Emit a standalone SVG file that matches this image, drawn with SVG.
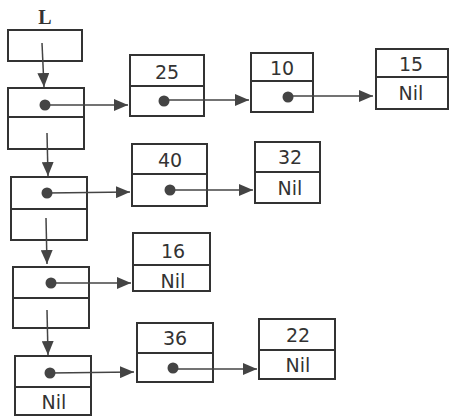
<svg xmlns="http://www.w3.org/2000/svg" width="451" height="416" viewBox="0 0 451 416">
<defs>
<style>
.box{fill:#fff;stroke:#333;stroke-width:2}
.div{stroke:#333;stroke-width:2}
.dot{fill:#444}
.t{font-family:"DejaVu Sans",sans-serif;font-size:19px;fill:#333;text-anchor:middle}
.L{font-family:"Liberation Serif",serif;font-size:20px;font-weight:bold;fill:#333;text-anchor:middle}
.c{stroke:#444;stroke-width:1.5;fill:none;marker-end:url(#ah)}
</style>
<marker id="ah" viewBox="0 0 14 12" refX="14" refY="6" markerWidth="14" markerHeight="12" markerUnits="userSpaceOnUse" orient="auto">
<path d="M0,0 L14,6 L0,12 Z" fill="#444"/>
</marker>
</defs>
<rect width="451" height="416" fill="#fff"/>
<text class="L" x="45" y="24">L</text>
<g id="Lhead"><rect class="box" x="8" y="30" width="74" height="31"/></g>
<g id="h1"><rect class="box" x="8" y="88" width="76" height="61"/><line class="div" x1="8" y1="117" x2="84" y2="117"/><circle class="dot" cx="45" cy="105" r="5.5"/></g>
<g id="n25"><rect class="box" x="130" y="55" width="74" height="61"/><line class="div" x1="130" y1="86" x2="204" y2="86"/><text class="t" x="167" y="79">25</text><circle class="dot" cx="164" cy="101" r="5.5"/></g>
<g id="n10"><rect class="box" x="251" y="53" width="62" height="59"/><line class="div" x1="251" y1="81" x2="313" y2="81"/><text class="t" x="282" y="75">10</text><circle class="dot" cx="288" cy="97" r="5.5"/></g>
<g id="n15"><rect class="box" x="376" y="49" width="72" height="60"/><line class="div" x1="376" y1="77" x2="448" y2="77"/><text class="t" x="411" y="71">15</text><text class="t" x="411" y="100">Nil</text></g>
<g id="h2"><rect class="box" x="11" y="177" width="76" height="63"/><line class="div" x1="11" y1="209" x2="87" y2="209"/><circle class="dot" cx="47" cy="193" r="5.5"/></g>
<g id="n40"><rect class="box" x="132" y="144" width="75" height="62"/><line class="div" x1="132" y1="174" x2="207" y2="174"/><text class="t" x="170" y="167">40</text><circle class="dot" cx="170" cy="190" r="5.5"/></g>
<g id="n32"><rect class="box" x="255" y="142" width="65" height="61"/><line class="div" x1="255" y1="172" x2="320" y2="172"/><text class="t" x="290" y="164">32</text><text class="t" x="290" y="195">Nil</text></g>
<g id="h3"><rect class="box" x="13" y="267" width="76" height="61"/><line class="div" x1="13" y1="298" x2="89" y2="298"/><circle class="dot" cx="51" cy="283" r="5.5"/></g>
<g id="n16"><rect class="box" x="133" y="233" width="77" height="58"/><line class="div" x1="133" y1="265" x2="210" y2="265"/><text class="t" x="173" y="258">16</text><text class="t" x="173" y="288">Nil</text></g>
<g id="h4"><rect class="box" x="15" y="356" width="76" height="59"/><line class="div" x1="15" y1="387" x2="91" y2="387"/><circle class="dot" cx="50" cy="373" r="5.5"/><text class="t" x="54" y="409">Nil</text></g>
<g id="n36"><rect class="box" x="137" y="323" width="76" height="59"/><line class="div" x1="137" y1="353" x2="213" y2="353"/><text class="t" x="175" y="345">36</text><circle class="dot" cx="173" cy="368" r="5.5"/></g>
<g id="n22"><rect class="box" x="259" y="319" width="76" height="60"/><line class="div" x1="259" y1="350" x2="335" y2="350"/><text class="t" x="298" y="342">22</text><text class="t" x="298" y="372">Nil</text></g>
<g id="connectors">
<line class="c" x1="42" y1="43" x2="44" y2="87"/>
<line class="c" x1="47" y1="133" x2="48" y2="176"/>
<line class="c" x1="46" y1="218" x2="47" y2="264"/>
<line class="c" x1="47" y1="310" x2="48" y2="355"/>
<line class="c" x1="45" y1="105" x2="128" y2="105"/>
<line class="c" x1="164" y1="100" x2="249" y2="100"/>
<line class="c" x1="288" y1="96" x2="373" y2="96"/>
<line class="c" x1="47" y1="193" x2="130" y2="192"/>
<line class="c" x1="170" y1="190" x2="253" y2="190"/>
<line class="c" x1="51" y1="283" x2="131" y2="283"/>
<line class="c" x1="50" y1="373" x2="134" y2="372"/>
<line class="c" x1="173" y1="369" x2="257" y2="369"/>
</g>
</svg>
